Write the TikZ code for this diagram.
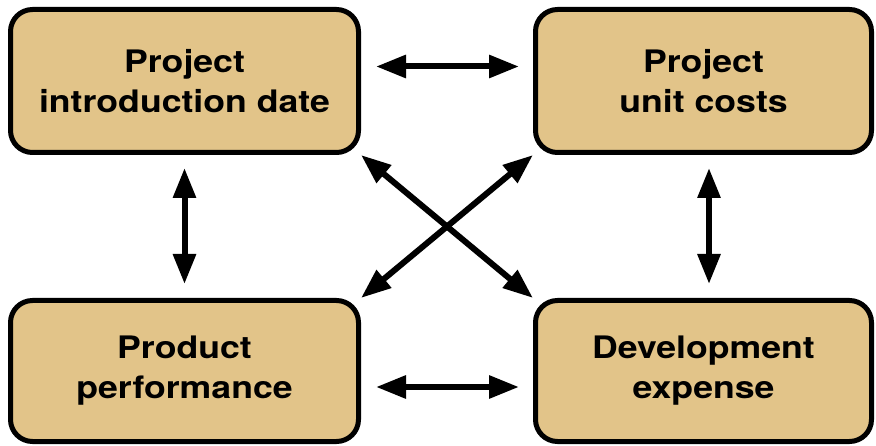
\documentclass[tikz,border=0pt]{standalone}
\usepackage{fontspec}
\usetikzlibrary{arrows.meta}
\newfontfamily\boxfont[FakeStretch=1.15]{TeX Gyre Heros}
\definecolor{boxtan}{RGB}{226,196,137}
\tikzset{
  factor/.style={draw=black, line width=5pt, fill=boxtan, rounded corners=22pt,
    align=center, inner sep=0pt,
    font={\boxfont\bfseries\fontsize{31}{40}\selectfont}},
  link/.style={line width=6pt, {Triangle[length=30pt,width=22pt]}-{Triangle[length=30pt,width=22pt]}}
}
\begin{document}
\begin{tikzpicture}[x=1pt,y=-1pt]
  \useasboundingbox (0,0) rectangle (876,446);
  % the four planning factors
  \node[factor, minimum width=348pt, minimum height=143pt] (date) at (184.5,81)
    {Project\\introduction date};
  \node[factor, minimum width=336pt, minimum height=143pt] (cost) at (703.5,81)
    {Project\\unit costs};
  \node[factor, minimum width=348pt, minimum height=141pt] (perf) at (184.5,371)
    {Product\\performance};
  \node[factor, minimum width=336pt, minimum height=141pt] (dev) at (703.5,371)
    {Development\\expense};
  % two-way trade-offs between them
  \draw[link] ([xshift=15pt,yshift=14.5pt]date.east) -- ([xshift=-14pt,yshift=14.5pt]cost.west);
  \draw[link] ([xshift=15pt,yshift=-16pt]perf.east) -- ([xshift=-14pt,yshift=-16pt]dev.west);
  \draw[link] ([yshift=-13pt]date.south) -- ([yshift=14pt]perf.north);
  \draw[link] ([xshift=5.5pt,yshift=-13pt]cost.south) -- ([xshift=5.5pt,yshift=14pt]dev.north);
  \draw[link] (date.south east) -- (dev.north west);
  \draw[link] (cost.south west) -- (perf.north east);
\end{tikzpicture}
\end{document}
